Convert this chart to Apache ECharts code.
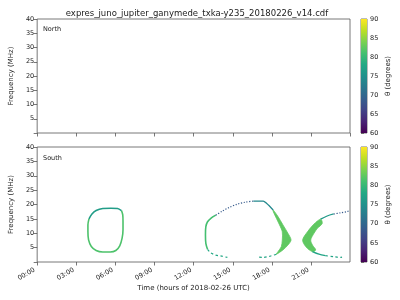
<!DOCTYPE html>
<html><head><meta charset="utf-8">
<script src="https://cdn.jsdelivr.net/npm/echarts@6/dist/echarts.min.js"></script>
<style>html,body{margin:0;padding:0;background:#fff}#c{width:400px;height:300px}</style>
</head><body><div id="c"></div>
<script>
// ---------- data (time in hours, frequency in MHz, theta in degrees) ----------
const title = 'expres_juno_jupiter_ganymede_txka-y235_20180226_v14.cdf';
const xTicks = [0, 3, 6, 9, 12, 15, 18, 21];
const yTicks = [5, 10, 15, 20, 25, 30, 35, 40];
const cbTicks = [60, 65, 70, 75, 80, 85, 90];

// Loop A (03:50 - 06:35)
const loopATop_t = [3.97, 4.20, 4.52, 5.03, 5.65, 6.16, 6.46];
const loopATop_f = [15.0, 16.7, 17.9, 18.6, 18.7, 18.6, 17.9];
const loopATop_theta = 76.5;
const loopARest_t = [6.46, 6.56, 6.58, 6.58, 6.51, 6.33, 6.03, 5.60, 5.03, 4.52, 4.15, 3.94, 3.89, 3.89, 3.97];
const loopARest_f = [17.9, 16.4, 14.1, 11.2, 8.3, 5.6, 4.0, 3.5, 3.5, 4.0, 5.4, 7.7, 10.6, 12.9, 15.0];
const loopARest_theta = 81.5;

// Curve B (12:55 - 19:30)
const bLowLeft_t = [13.06, 13.31, 13.69, 14.06, 14.58];
const bLowLeft_f = [4.4, 3.2, 2.4, 2.1, 1.6];
const bLowLeft_theta = 78;
const bLeft_t = [13.06, 12.93, 12.90, 12.93, 13.06, 13.31, 13.69];
const bLeft_f = [4.4, 6.5, 9.4, 12.3, 14.0, 15.2, 16.3];
const bLeft_theta = 81;
const bDots_t = [13.69, 14.19, 14.69, 15.32, 15.95, 16.58];
const bDots_f = [16.3, 17.7, 18.9, 20.1, 20.8, 21.2];
const bDots_theta = 68.5;
const bTop_t = [16.58, 17.33, 17.58, 18.09];
const bTop_f = [21.2, 21.2, 20.4, 18.1];
const bTop_theta = 74;
const bWedge_t = [18.09, 18.46, 18.84, 19.22, 19.46, 19.22, 18.84, 18.33, 18.46, 18.71, 18.79, 18.79, 18.58, 18.11];
const bWedge_f = [18.1, 15.8, 12.9, 10.0, 7.65, 5.9, 4.2, 2.7, 3.6, 5.3, 7.65, 10.5, 12.9, 17.4];
const bWedge_theta = 82.5;
const bLowRight_t = [18.33, 17.90, 17.33, 16.96];
const bLowRight_f = [2.7, 2.1, 1.6, 1.7];
const bLowRight_theta = 77.5;

// Curve C (20:20 - 23:55)
const cWedge_t = [20.35, 20.72, 21.22, 21.73, 21.85, 21.48, 21.22, 20.97, 21.10, 21.35, 21.10, 20.60];
const cWedge_f = [7.65, 10.5, 13.2, 14.9, 13.4, 11.7, 10.0, 7.65, 5.9, 4.2, 3.6, 5.3];
const cWedge_theta = 82.5;
const cUpper_t = [21.73, 22.23, 22.73];
const cUpper_f = [14.9, 16.0, 16.7];
const cUpper_theta = 76;
const cDots_t = [22.73, 23.23, 23.74, 23.87];
const cDots_f = [16.7, 17.1, 17.5, 17.75];
const cDots_theta = 68.5;
const cLower_t = [21.10, 21.60, 22.10];
const cLower_f = [3.6, 2.7, 2.2];
const cLower_theta = 77.5;
const cLowerDash_t = [22.10, 22.73, 23.23, 23.37];
const cLowerDash_f = [2.2, 1.85, 1.6, 1.7];
const cLowerDash_theta = 77.5;

// ---------- styling helpers ----------
const viridis = ['#440154','#482475','#414487','#355f8d','#2a788e','#21918c','#22a884','#44bf70','#7ad151','#bddf26','#fde725'];
function hex(c){return [parseInt(c.substr(1,2),16),parseInt(c.substr(3,2),16),parseInt(c.substr(5,2),16)];}
function vcol(theta){
  let u = Math.max(0, Math.min(1, (theta-60)/30)) * 10;
  let i = Math.min(9, Math.floor(u)), f = u - i;
  const a = hex(viridis[i]), b = hex(viridis[i+1]);
  const m = a.map((v,k)=>Math.round(v+(b[k]-v)*f));
  return 'rgb('+m.join(',')+')';
}
const zip = (t,f) => t.map((v,i)=>[v,f[i]]);

const font = 'DejaVu Sans';
const txt = '#222';
const frame = '#555';
const grids = [
  {left:32, top:19, width:318, height:114},
  {left:32, top:147, width:318, height:115},
  {left:361, top:19, width:6, height:114},
  {left:361, top:147, width:6, height:115}
].map(g=>Object.assign({show:true, borderColor:frame, borderWidth:0.8, backgroundColor:'transparent', containLabel:false}, g));

function xAx(idx, showLabels){
  return {type:'value', gridIndex:idx, min:0, max:23.98, interval:3,
    axisLine:{show:false}, splitLine:{show:false},
    axisTick:{show:true, inside:false, length:3.5, lineStyle:{color:frame, width:0.8}},
    axisLabel:{show:showLabels, rotate:30, fontSize:6.5, color:txt, fontFamily:font, margin:6,
      padding:[0,3,0,0], showMaxLabel:false,
      formatter:v=> xTicks.includes(v) ? String(v).padStart(2,'0')+':00' : ''},
    name: showLabels ? 'Time (hours of 2018-02-26 UTC)' : '', nameLocation:'middle', nameGap:23,
    nameTextStyle:{fontSize:7, color:txt, fontFamily:font}};
}
function yAx(idx){
  return {type:'value', gridIndex:idx, min:0, max:40, interval:5,
    axisLine:{show:false}, splitLine:{show:false},
    axisTick:{show:true, inside:false, length:3.5, lineStyle:{color:frame, width:0.8}},
    axisLabel:{fontSize:6.5, color:txt, fontFamily:font, margin:3,
      formatter:v=> yTicks.includes(v) ? String(v) : ''},
    name:'Frequency (MHz)', nameLocation:'middle', nameGap:17, nameRotate:90,
    nameTextStyle:{fontSize:7, color:txt, fontFamily:font}};
}
function cbX(idx){ return {type:'value', gridIndex:idx, min:0, max:1, show:false}; }
function cbY(idx){
  return {type:'value', gridIndex:idx, min:60, max:90, interval:5, position:'right',
    axisLine:{show:false}, splitLine:{show:false},
    axisTick:{show:true, inside:false, length:3, lineStyle:{color:frame, width:0.8}},
    axisLabel:{fontSize:6.5, color:txt, fontFamily:font, margin:3,
      formatter:v=> cbTicks.includes(v) ? String(v) : ''},
    name:'θ (degrees)', nameLocation:'middle', nameGap:18, nameRotate:90,
    nameTextStyle:{fontSize:7, color:txt, fontFamily:font}};
}

function lineSeries(t, f, theta, type, width){
  return {type:'line', xAxisIndex:1, yAxisIndex:1, data:zip(t,f), showSymbol:false, symbol:'none',
    smooth:0.3, silent:true, animation:false,
    lineStyle:{color:vcol(theta), width:width||1.6, type:type||'solid', cap:'butt', join:'round'}};
}
function polySeries(t, f, theta){
  return {type:'custom', xAxisIndex:1, yAxisIndex:1, data:zip(t,f), animation:false, silent:true,
    renderItem:function(params, api){
      if (params.dataIndex !== 0) return;
      const pts = zip(t,f).map(p=>api.coord(p));
      return {type:'polygon', shape:{points:pts, smooth:0.3},
        style:{fill:vcol(theta), stroke:vcol(theta), lineWidth:0.8}};
    }};
}
function cbSeries(idx){
  const stops = viridis.map((c,i)=>({offset:i/10, color:c}));
  return {type:'custom', xAxisIndex:idx, yAxisIndex:idx, data:[[0,60],[1,90]], animation:false, silent:true,
    renderItem:function(params, api){
      if (params.dataIndex !== 0) return;
      const a = api.coord([0,60]), b = api.coord([1,90]);
      return {type:'rect', shape:{x:a[0], y:b[1], width:b[0]-a[0], height:a[1]-b[1]},
        style:{fill:new echarts.graphic.LinearGradient(0,1,0,0,stops)}};
    }};
}

const chart = echarts.init(document.getElementById('c'), null, {renderer:'canvas'});
chart.setOption({
  animation:false,
  title:{text:title, left:192, top:4, textAlign:'center',
    textStyle:{fontSize:8.5, fontWeight:'normal', color:txt, fontFamily:font}},
  grid:grids,
  xAxis:[xAx(0,false), xAx(1,true), cbX(2), cbX(3)],
  yAxis:[yAx(0), yAx(1), cbY(2), cbY(3)],
  graphic:[
    {type:'text', left:43, top:26, style:{text:'North', fontSize:6.5, fill:txt, fontFamily:font}},
    {type:'text', left:43, top:155, style:{text:'South', fontSize:6.5, fill:txt, fontFamily:font}}
  ],
  series:[
    cbSeries(2), cbSeries(3),
    lineSeries(loopARest_t, loopARest_f, loopARest_theta),
    lineSeries(loopATop_t, loopATop_f, loopATop_theta),
    lineSeries(bLeft_t, bLeft_f, bLeft_theta),
    lineSeries(bLowLeft_t, bLowLeft_f, bLowLeft_theta, [2.5,2.5], 1.2),
    lineSeries(bDots_t, bDots_f, bDots_theta, [1.2,1.6], 1.2),
    lineSeries(bTop_t, bTop_f, bTop_theta, 'solid', 1.3),
    polySeries(bWedge_t, bWedge_f, bWedge_theta),
    lineSeries(bLowRight_t, bLowRight_f, bLowRight_theta, [2.5,2.5], 1.2),
    polySeries(cWedge_t, cWedge_f, cWedge_theta),
    lineSeries(cUpper_t, cUpper_f, cUpper_theta, 'solid', 1.3),
    lineSeries(cDots_t, cDots_f, cDots_theta, [1.2,1.6], 1.2),
    lineSeries(cLower_t, cLower_f, cLower_theta, 'solid', 1.3),
    lineSeries(cLowerDash_t, cLowerDash_f, cLowerDash_theta, [2.5,2.5], 1.2)
  ]
});
</script></body></html>
